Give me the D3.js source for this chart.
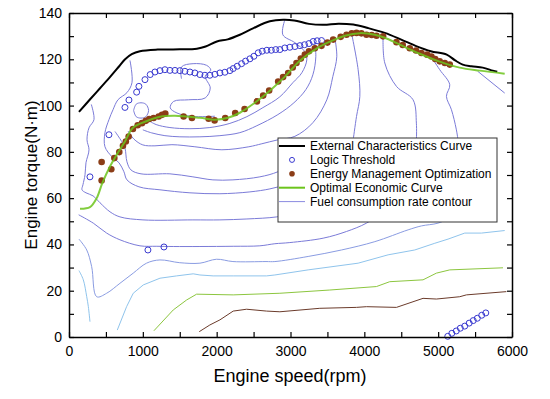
<!DOCTYPE html>
<html>
<head>
<meta charset="utf-8">
<script src="https://cdn.jsdelivr.net/npm/d3@7"></script>
<style>
body{margin:0;background:#fff;}
svg text{font-family:"Liberation Sans",Arial,sans-serif;fill:#000;}
</style>
</head>
<body>
<svg id="chart" width="550" height="399"></svg>
<script>
// speed (rpm), torque (N·m)
var externalCurve = [[135,97.3],[280,102.5],[420,107.5],[560,112.5],[680,117],[760,120],[850,122.2],[961,123.5],[1200,124.2],[1500,124.3],[1732,124.6],[1850,125.5],[2003,127.7],[2150,128.6],[2314,130.6],[2500,133.5],[2720,136.4],[2900,137.1],[3050,136.8],[3250,135.3],[3450,134.9],[3650,135.4],[3850,135],[4050,133.5],[4277,131.4],[4500,128.5],[4710,125.6],[4900,123.5],[5116,122],[5230,119.5],[5333,117.7],[5450,117],[5604,116.4],[5740,115.1],[5800,114.6]];

var optimalCurve = [[149,55.4],[284,56.1],[375,60],[451,66.5],[555,73.7],[645,78.7],[758,84.5],[866,90.4],[1029,93],[1232,95.2],[1435,95.6],[1773,94.7],[1976,93.9],[2152,94.7],[2314,96.9],[2517,101.2],[2720,106.4],[2924,112.5],[3127,119.4],[3330,124.2],[3533,127.6],[3736,130.2],[3939,131.3],[4142,130.6],[4277,129.3],[4480,126.3],[4751,122.4],[5021,119],[5292,116.4],[5563,115.1],[5901,113.8]];

var logicThreshold = [[284,69.2],[541,87.4],[1069,37.6],[1286,38.9],
  [758,99.2],[812,102.4],[916,105.8],[947,108.3],[1029,111.2],[1100,113.4],[1164,114.5],[1232,115.1],[1299,115.5],[1367,115.2],[1435,115.2],[1502,115.1],[1570,114.8],[1638,114.5],[1705,114.1],[1773,113.4],[1841,113.1],[1908,113.1],[1976,113.5],[2044,114.1],[2111,114.4],[2179,115.1],[2224,116],[2278,117],[2337,118.1],[2391,119.2],[2450,120.2],[2504,121.3],[2563,122.8],[2617,123.5],[2680,123.9],[2740,123.9],[2800,124.2],[2856,124.2],[2923,124.9],[2991,125.2],[3060,125.5],[3127,125.9],[3190,126.3],[3250,126.8],[3307,127.7],[3360,128],[3420,128.1],
  [5130,0.3],[5185,1.6],[5245,2.6],[5300,3.8],[5360,4.7],[5420,6],[5475,7.1],[5530,8.1],[5590,9.4],[5645,10.4]];

var energyOpt = [[442,75.6],[442,67.6],[573,72.5],[614,77.3],[681,79.9],[731,82.6],[770,84.5],[808,86.6],[866,89.9],[930,91.5],[988,92.4],[1040,93.4],[1087,94.2],[1146,94.6],[1214,95.3],[1260,96],[1304,96.5],[1552,95.3],[1665,94.6],[1891,94.3],[1972,93.6],[2116,94.6],[2251,96.8],[2378,98.5],[2545,101.8],[2630,104.3],[2711,106.5],[2833,110.4],[2900,112.3],[2968,114.1],[3030,116.5],[3081,118.4],[3140,120.3],[3194,122],[3250,123.5],[3330,124.8],[3420,125.8],[3500,127.2],[3578,128.5],[3680,129.7],[3759,130.6],[3830,131.2],[3894,131.4],[3960,131.2],[4029,130.6],[4100,130.5],[4165,130.2],[4254,129.9],[4435,127.4],[4520,126.2],[4615,124.8],[4700,123.8],[4773,122.7],[4850,122],[4909,121.2],[4960,120.1],[5021,119.1],[5090,118.4],[5157,117.7]];

// fuel consumption rate contours
var contourI0 = [[875,97.9],[910,100.6],[975,101.2],[1040,100.6],[1078,97.9],[1040,95.2],[975,94.6],[910,95.2],[875,97.9]];
var contourI1 = [[1524,111.6],[1524,116.7],[1681,118.1],[1863,117.4],[1921,115.3],[1845,112.7],[1913,107.6],[1845,103.3],[1620,102.5],[1417,101.8],[1371,99],[1462,96.8],[1665,95.3],[1976,95.4]];
var contourCU = [[2923,137],[2896,130.6],[3059,127.2],[3194,123.3],[3221,119.8],[3154,114.2],[3032,109.9],[2856,103.8],[2626,99.1],[2409,95.2],[2179,92.3],[1908,90.5],[1638,90],[1367,90.5],[1180,91.8],[1080,93.5]];
var contourCS2 = [[3330,126.8],[3343,121.1],[3303,113.3],[3208,106.9],[3046,101.2],[2829,96.1],[2545,91.3],[2314,88.3],[2044,87],[1773,86.5],[1502,86.5],[1299,87],[1120,88.2],[1000,89.5]];
var contourM150 = [[3600,129.3],[3627,121.1],[3573,112.5],[3492,102.5],[3303,92.6],[3059,86.7],[2829,85.2],[2612,83.5],[2436,82.2],[2071,80.9],[1705,82.2],[1394,83.1],[1164,82.6],[1000,83],[880,85.5],[800,89]];
var contourM172 = [[623,88.8],[713,84.5],[758,81.6],[785,75.7],[839,72.2],[975,70.5],[1367,70.5],[1678,69.2],[1949,67.9],[2220,67.9],[2585,69.2],[2829,71.4],[3127,76.6],[3400,82]];
var contourM193 = [[826,119.5],[853,109.9],[785,105.6],[663,102.5],[596,98.2],[541,93.9],[487,88.3],[487,82.2],[582,77.9],[677,75.3],[744,71.4],[785,67.9],[947,64.9],[1232,63.6],[1638,62.3],[2044,61.9],[2450,62.7],[2721,64],[2924,65.8],[3127,68.8],[3400,74]];
var contourC51 = [[302,100.5],[338,93.9],[271,90.4],[244,85.2],[271,80.9],[230,75.3],[217,70.1],[189,65.8],[176,63.6],[230,62.3],[325,61],[420,58],[555,54.1],[690,51.9],[1002,50.6],[1678,50.6],[2044,50.6],[2409,51],[2815,51.9],[3059,53.6],[3300,56]];
var contourC40 = [[131,52.8],[329,49.2],[510,44.9],[690,42],[961,39.4],[1190,39.2],[1412,39.1],[1773,39.1],[2224,39.2],[2585,39.4],[2788,40.3],[2991,40.8],[3442,42.7],[3759,45.6],[4029,49.2],[4250,54]];
var contourC32 = [[135,42.3],[240,37.6],[307,30.4],[375,17.4],[510,18.9],[690,23.2],[870,27.6],[1050,31.9],[1232,33.3],[1500,32.1],[1773,31.9],[1998,33.6],[2220,32.6],[2668,32.6],[2788,32.6],[3239,34.8],[3691,37.6],[4142,41.2],[4593,46.3],[4773,48],[4998,49.2],[5200,52]];
var contourT3 = [[3826,131.4],[3916,115.5],[3939,103.9],[3894,95.3],[3848,85]];
var contourT4 = [[4254,129.9],[4277,118.4],[4435,108.3],[4660,102.5],[4705,92.4],[4705,85]];
var contourT5 = [[4886,122],[5021,115.5],[5157,109],[5112,104],[5180,98.2],[5247,89.5],[5290,80]];
var contourT6 = [[5536,114.8],[5901,105.4]];
var contourLB1 = [[135,28.7],[194,24.7],[240,17.4],[262,13.1],[284,6.6]];
var contourLB2 = [[654,3],[780,13.1],[870,18.9],[1006,22.5],[1232,25.4],[1457,26.4],[1682,27.3],[1773,26.8],[1953,26.4],[2224,26.4],[2676,26.4],[2788,26.8],[3239,29],[3916,31.9],[4322,35.5],[4683,37.6],[4954,40.5],[5134,42.3],[5360,44.9],[5586,44.9],[5901,46]];
var contourG = [[1150,2.7],[1412,11.7],[1593,16],[1728,18.5],[2224,18.2],[2856,18.9],[3532,20.3],[4164,21.8],[4344,23.9],[4795,24.7],[4976,27.6],[5157,29],[5878,29.9]];
var contourBR = [[1764,2.3],[1908,5.2],[2044,7.4],[2224,11.2],[2405,12],[2676,11.2],[2856,10.9],[3397,12.4],[3893,12.8],[4029,13.1],[4435,12.8],[4795,16.7],[4976,16.4],[5292,17.4],[5382,18.2],[5924,19.6]];

var xTicks = [0,500,1000,1500,2000,2500,3000,3500,4000,4500,5000,5500,6000];
var yTicks = [0,10,20,30,40,50,60,70,80,90,100,110,120,130,140];
var legendLabels = ["External Characteristics Curve","Logic Threshold","Energy Management Optimization","Optimal Economic Curve","Fuel consumption rate contour"];

var svg = d3.select("#chart");
var x = d3.scaleLinear().domain([0,6000]).range([69,512]);
var y = d3.scaleLinear().domain([0,140]).range([337,13]);

svg.append("defs").append("clipPath").attr("id","plotclip")
  .append("rect").attr("x",69).attr("y",13).attr("width",443).attr("height",324);

var plot = svg.append("g").attr("clip-path","url(#plotclip)");

var smooth = d3.line().x(function(d){return x(d[0]);}).y(function(d){return y(d[1]);}).curve(d3.curveCatmullRom.alpha(0.5));
var straight = d3.line().x(function(d){return x(d[0]);}).y(function(d){return y(d[1]);});

var blueContours = [contourI0,contourI1,contourCU,contourCS2,contourM150,contourM172,contourM193,contourC51,contourC40,contourT3,contourT4,contourT5,contourT6];
blueContours.forEach(function(c){
  plot.append("path").attr("d",smooth(c)).attr("fill","none").attr("stroke","#7b7bd8").attr("stroke-width",1);
});
plot.append("path").attr("d",smooth(contourC32)).attr("fill","none").attr("stroke","#8a9ce2").attr("stroke-width",1);
plot.append("path").attr("d",smooth(contourLB1)).attr("fill","none").attr("stroke","#8fc4ec").attr("stroke-width",1);
plot.append("path").attr("d",straight(contourLB2)).attr("fill","none").attr("stroke","#8fc4ec").attr("stroke-width",1);
plot.append("path").attr("d",straight(contourG)).attr("fill","none").attr("stroke","#8cc63f").attr("stroke-width",1);
plot.append("path").attr("d",straight(contourBR)).attr("fill","none").attr("stroke","#6b3b2b").attr("stroke-width",1);

// external characteristics
svg.append("path").attr("d",smooth(externalCurve)).attr("fill","none").attr("stroke","#000").attr("stroke-width",2);

// logic threshold
svg.append("g").selectAll("circle").data(logicThreshold).enter().append("circle")
  .attr("cx",function(d){return x(d[0]);}).attr("cy",function(d){return y(d[1]);})
  .attr("r",3).attr("fill","none").attr("stroke","#3a3ad0").attr("stroke-width",1);

// energy management optimization
svg.append("g").selectAll("circle").data(energyOpt).enter().append("circle")
  .attr("cx",function(d){return x(d[0]);}).attr("cy",function(d){return y(d[1]);})
  .attr("r",3.3).attr("fill","#8b3d17");

// optimal economic curve, drawn over the dots
svg.append("path").attr("d",smooth(optimalCurve)).attr("fill","none").attr("stroke","#6cc41c").attr("stroke-width",2).attr("stroke-opacity",0.85);

// axes (ticks pointing inward)
function styleAxis(g){
  g.select(".domain").attr("stroke","#000").attr("stroke-width",1.5);
  g.selectAll(".tick line").attr("stroke","#000").attr("stroke-width",1.2);
  g.selectAll(".tick text").attr("font-size",14).attr("fill","#000")
    .style("font-family","'Liberation Sans',Arial,sans-serif");
}
var xb = svg.append("g").attr("transform","translate(0,337)")
  .call(d3.axisBottom(x).tickValues(xTicks).tickSizeInner(-5).tickSizeOuter(0).tickPadding(9)
    .tickFormat(function(d){return d % 1000 === 0 ? d : "";}));
styleAxis(xb);
var xt = svg.append("g").attr("transform","translate(0,13)")
  .call(d3.axisTop(x).tickValues(xTicks).tickSizeInner(-5).tickSizeOuter(0).tickFormat(""));
styleAxis(xt);
var yl = svg.append("g").attr("transform","translate(69,0)")
  .call(d3.axisLeft(y).tickValues(yTicks).tickSizeInner(-5).tickSizeOuter(0).tickPadding(7)
    .tickFormat(function(d){return d % 20 === 0 ? d : "";}));
styleAxis(yl);
var yr = svg.append("g").attr("transform","translate(512,0)")
  .call(d3.axisRight(y).tickValues(yTicks).tickSizeInner(-5).tickSizeOuter(0).tickFormat(""));
styleAxis(yr);

// axis titles
svg.append("text").attr("x",290).attr("y",382).attr("text-anchor","middle").attr("font-size",18).text("Engine speed(rpm)");
svg.append("text").attr("transform","translate(37,175) rotate(-90)").attr("text-anchor","middle").attr("font-size",17).text("Engine torque(N\u00b7m)");

// legend
var lg = svg.append("g");
lg.append("rect").attr("x",278).attr("y",138).attr("width",219).attr("height",84)
  .attr("fill","#fff").attr("stroke","#333").attr("stroke-width",1);
var rowY = function(i){ return 146 + i*13.9; };
lg.append("line").attr("x1",279).attr("x2",305).attr("y1",rowY(0)).attr("y2",rowY(0)).attr("stroke","#000").attr("stroke-width",2);
lg.append("circle").attr("cx",292).attr("cy",rowY(1)).attr("r",2.5).attr("fill","none").attr("stroke","#3a3ad0").attr("stroke-width",1);
lg.append("circle").attr("cx",292).attr("cy",rowY(2)).attr("r",2.8).attr("fill","#8b3d17");
lg.append("line").attr("x1",279).attr("x2",305).attr("y1",rowY(3)).attr("y2",rowY(3)).attr("stroke","#6cc41c").attr("stroke-width",2);
lg.append("line").attr("x1",279).attr("x2",305).attr("y1",rowY(4)).attr("y2",rowY(4)).attr("stroke","#8a8ae0").attr("stroke-width",1);
lg.selectAll("text.lab").data(legendLabels).enter().append("text").attr("class","lab")
  .attr("x",310).attr("y",function(d,i){return rowY(i);}).attr("dy","0.36em")
  .attr("font-size",12).text(function(d){return d;});
</script>
</body>
</html>
